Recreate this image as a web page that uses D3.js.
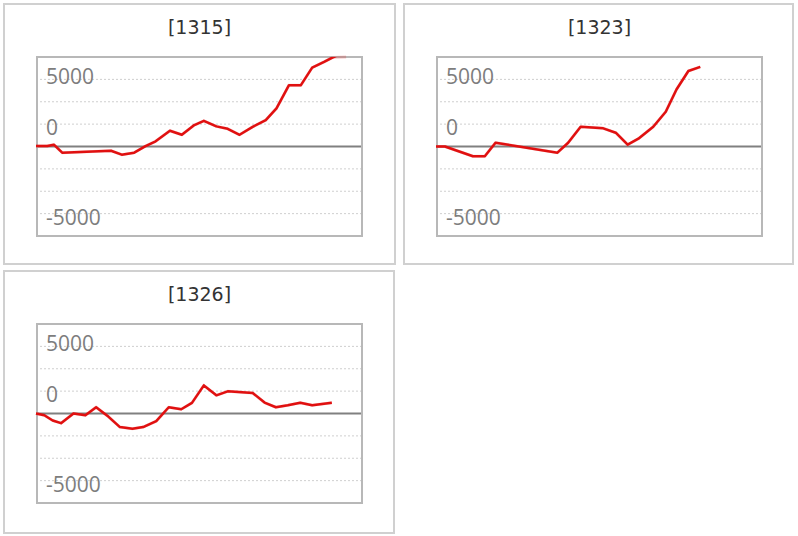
<!DOCTYPE html>
<html>
<head>
<meta charset="utf-8">
<script src="https://cdn.jsdelivr.net/npm/d3@7"></script>
<style>
  body { margin: 0; background: #fff; }
</style>
</head>
<body>
<div id="chart-container"></div>
<script>
// panel titles
const titles = ["[1315]", "[1323]", "[1326]"]

// x positions (period steps) and values
const t1315 = [0, 0.95, 1.5, 2.2, 6.3, 7.2, 8.25, 9.2, 10.05, 11.25, 12.25, 13.3, 14.1, 15.15, 16.1, 17.1, 18.2, 19.3, 20.2, 21.25, 22.25, 23.2, 24.2, 24.9, 26.05]
const v1315 = [50, 50, 200, -690, -470, -910, -690, 50, 580, 1760, 1310, 2400, 2870, 2250, 1980, 1310, 2200, 2950, 4260, 6850, 6850, 8820, 9450, 9940, 10600]

const t1323 = [0, 0.75, 3.1, 4.1, 5.0, 10.2, 11.1, 12.15, 14.05, 15.1, 16.1, 17.0, 18.25, 19.3, 20.2, 21.2, 22.2]
const v1323 = [0, 0, -1090, -1090, 420, -690, 420, 2210, 2030, 1540, 200, 870, 2210, 3880, 6370, 8440, 8890]

const t1326 = [0, 0.7, 1.4, 2.1, 3.15, 4.15, 5.05, 6.1, 7.05, 8.1, 9.0, 10.1, 11.15, 12.2, 13.1, 14.1, 15.15, 16.1, 18.2, 19.2, 20.15, 21.15, 22.2, 23.2, 24.85]
const v1326 = [0, -190, -780, -1080, 0, -190, 700, -370, -1520, -1700, -1520, -860, 700, 480, 1190, 3140, 2030, 2480, 2300, 1220, 700, 920, 1190, 920, 1190]

// gridlines and the (oddly placed) y labels
const gridValues = [7500, 5000, 2500, -2500, -5000, -7500]
const yTickLabels = ["5000", "0", "-5000"]
const yTickAt = [7750, 2100, -7950]

const series = [
    {title: titles[0], t: t1315, v: v1315},
    {title: titles[1], t: t1323, v: v1323},
    {title: titles[2], t: t1326, v: v1326},
]

const panels = [
    {x: 4, y: 4, w: 391, h: 260},
    {x: 404, y: 4, w: 389, h: 260},
    {x: 4, y: 271, w: 390, h: 262},
]
const box = {left: 33, top: 53, width: 325, height: 179}

const svg = d3.select("#chart-container")
    .append("svg")
        .attr("width", 798)
        .attr("height", 536)

const x = d3.scaleLinear()
    .domain([0, 27.3])
    .range([0, box.width])
const y = d3.scaleLinear()
    .domain([-10000, 10000])
    .range([box.height, 0])
const yClamp = y.copy().clamp(true)

series.forEach((s, i) => {
    const data = s.t.map((d, j) => ({t: d, v: s.v[j]}))
    const p = panels[i]

    const panel = svg.append("g")
        .attr("transform", `translate(${p.x}, ${p.y})`)

    panel.append("rect")
        .attr("width", p.w)
        .attr("height", p.h)
        .attr("fill", "#fff")
        .attr("stroke", "#d0d0d0")
        .attr("stroke-width", 2)

    panel.append("text")
        .attr("x", 195.5)
        .attr("y", 29.5)
        .attr("text-anchor", "middle")
        .attr("font-family", "DejaVu Sans")
        .attr("font-size", 19)
        .attr("fill", "#333")
        .text(s.title)

    const g = panel.append("g")
        .attr("transform", `translate(${box.left}, ${box.top})`)

    g.selectAll(".grid")
        .data(gridValues)
        .enter().append("line")
        .attr("class", "grid")
        .attr("x1", -1).attr("x2", box.width)
        .attr("y1", d => y(d)).attr("y2", d => y(d))
        .attr("stroke", "#cfcfcf")
        .attr("stroke-width", 1)
        .attr("stroke-dasharray", "2,2")

    g.selectAll(".ylabel")
        .data(yTickLabels)
        .enter().append("text")
        .attr("class", "ylabel")
        .attr("x", 9)
        .attr("y", (d, j) => y(yTickAt[j]))
        .attr("dy", "0.35em")
        .attr("font-family", "Open Sans")
        .attr("font-size", 21)
        .attr("fill", "#7d7d7d")
        .text(d => d)

    g.append("line")
        .attr("x1", -1).attr("x2", box.width)
        .attr("y1", y(0)).attr("y2", y(0))
        .attr("stroke", "#808080")
        .attr("stroke-width", 2)

    g.append("rect")
        .attr("width", box.width)
        .attr("height", box.height)
        .attr("fill", "none")
        .attr("stroke", "#b8b8b8")
        .attr("stroke-width", 2)

    const clipId = `clip${i}`
    g.append("clipPath")
        .attr("id", clipId)
      .append("rect")
        .attr("x", -3)
        .attr("y", 0)
        .attr("width", box.width + 3)
        .attr("height", box.height)

    // values past the top are drawn faded along the edge
    g.append("path")
        .datum(data)
        .attr("fill", "none")
        .attr("stroke", "#e01010")
        .attr("stroke-opacity", 0.2)
        .attr("stroke-width", 3)
        .attr("d", d3.line().x(d => x(d.t) - 1).y(d => yClamp(d.v)))

    g.append("path")
        .datum(data)
        .attr("clip-path", `url(#${clipId})`)
        .attr("fill", "none")
        .attr("stroke", "#e01010")
        .attr("stroke-width", 2.5)
        .attr("stroke-linejoin", "round")
        .attr("d", d3.line().x(d => x(d.t) - 1).y(d => y(d.v)))
})
</script>
</body>
</html>
